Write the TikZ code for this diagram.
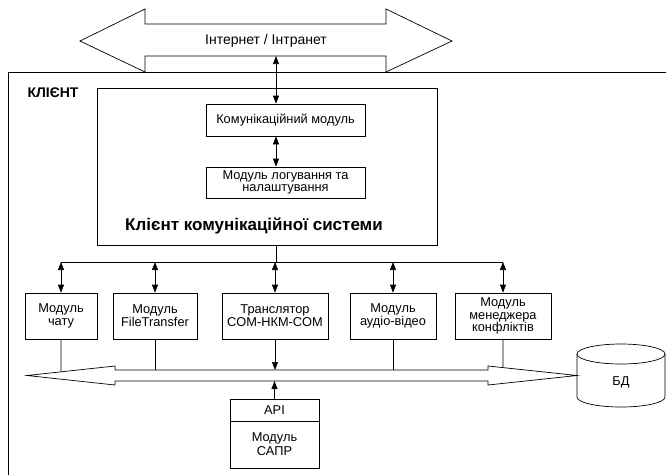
\documentclass[tikz,border=0pt]{standalone}
\usepackage{fontspec}
\setmainfont{Liberation Sans}
\usetikzlibrary{arrows.meta,positioning,calc}

\begin{document}
\begin{tikzpicture}[x=1pt,y=-1pt,line width=0.7pt,
box/.style={draw,minimum height=46pt,align=center,inner sep=2pt,font=\fontsize{12.8}{12.8}\selectfont},
sbox/.style={draw,minimum width=159pt,minimum height=31pt,align=center,font=\fontsize{12.8}{12.8}\selectfont},
darr/.style={{Triangle[length=8pt,width=6pt]}-{Triangle[length=8pt,width=6pt]}},
arr/.style={-{Triangle[length=8pt,width=6pt]}}]
\useasboundingbox (0,0) rectangle (666,475);
% client frame
\draw (666,72) -| (8,475);
\node[font=\bfseries\fontsize{14}{15}\selectfont] (klient) at (53,93) {КЛІЄНТ};
% internet
\draw[fill=white] (80,41) -- (145,9) -- (145,24) -- (386,24) -- (386,9) -- (452,41) -- (386,72) -- (386,56) -- (145,56) -- (145,72) -- cycle;
\coordinate (inet) at (276,56);
\node[font=\fontsize{14}{15}\selectfont] (inettxt) at (266,41) {Інтернет / Інтранет};
% client of the communication system
\node[draw,minimum width=340pt,minimum height=157pt] (cks) at (267,166.5) {};
\node[font=\bfseries\fontsize{17}{19}\selectfont] (ckstitle) at (254,226) {Клієнт комунікаційної системи};
\node[sbox,minimum height=32pt] (komm) at (285.5,120) {Комунікаційний модуль};
\node[sbox] (log) at (285.5,182.5) {Модуль логування та\\налаштування};
\draw[darr] (inet) -- (inet |- komm.north);
\draw[darr] (komm.south -| inet) -- (log.north -| inet);
% upper bus
\coordinate (bus) at (276,262);
\draw (cks.south -| bus) -- (bus);
\node[box,minimum width=72pt] (chat) at (61,316) {Модуль\\чату};
\node[box,minimum width=84pt] (ft) at (155,316) {Модуль\\FileTransfer};
\node[box,minimum width=106pt] (tr) at (275,316) {Транслятор\\COM-НКМ-COM};
\node[box,minimum width=86pt] (av) at (393,316) {Модуль\\аудіо-відео};
\node[box,minimum width=96pt] (conf) at (503,316) {Модуль\\менеджера\\конфліктів};
\draw (chat |- bus) -- (conf |- bus);
\foreach \m in {chat,ft,tr,av,conf}
  \draw[darr] (\m |- bus) -- (\m.north);
% lower bus
\coordinate (bl) at (27,375.5);
\coordinate (blt) at (115,366);
\coordinate (br) at (577,375.5);
\coordinate (brt) at (488,366);
\draw[fill=white] (bl) -- (blt) -- (115,370) -- (488,370) -- (brt) -- (br) -- (488,385) -- (488,381) -- (115,381) -- (115,385) -- cycle;
\coordinate (bustop) at (276,370);
\coordinate (busbot) at (276,381);
\draw (chat.south) -- ($(bl)!0.386!(blt)$);
\draw (ft.south) -- (ft.south |- bustop);
\draw[arr] (tr.south) -- (tr.south |- bustop);
\draw (av.south) -- (av.south |- bustop);
\draw (conf.south) -- ($(brt)!0.169!(br)$);
% CAD module
\node[draw,outer sep=0pt,minimum width=89pt,minimum height=22pt,font=\fontsize{12.8}{14}\selectfont] (api) at (274.5,410) {API};
\node[draw,outer sep=0pt,minimum width=89pt,minimum height=47pt,align=center,font=\fontsize{12.8}{14}\selectfont,below=0pt of api] (sapr) {Модуль\\САПР};
\draw[arr] (api.north) -- (api.north |- busbot);
% database
\draw (577,354) -- (577,397) arc[start angle=180,end angle=360,x radius=44pt,y radius=10pt] -- (665,354);
\draw (621,354) ellipse [x radius=44pt,y radius=10pt];
\node[font=\fontsize{12.8}{14}\selectfont] (db) at (621,382) {БД};
\end{tikzpicture}
\end{document}
